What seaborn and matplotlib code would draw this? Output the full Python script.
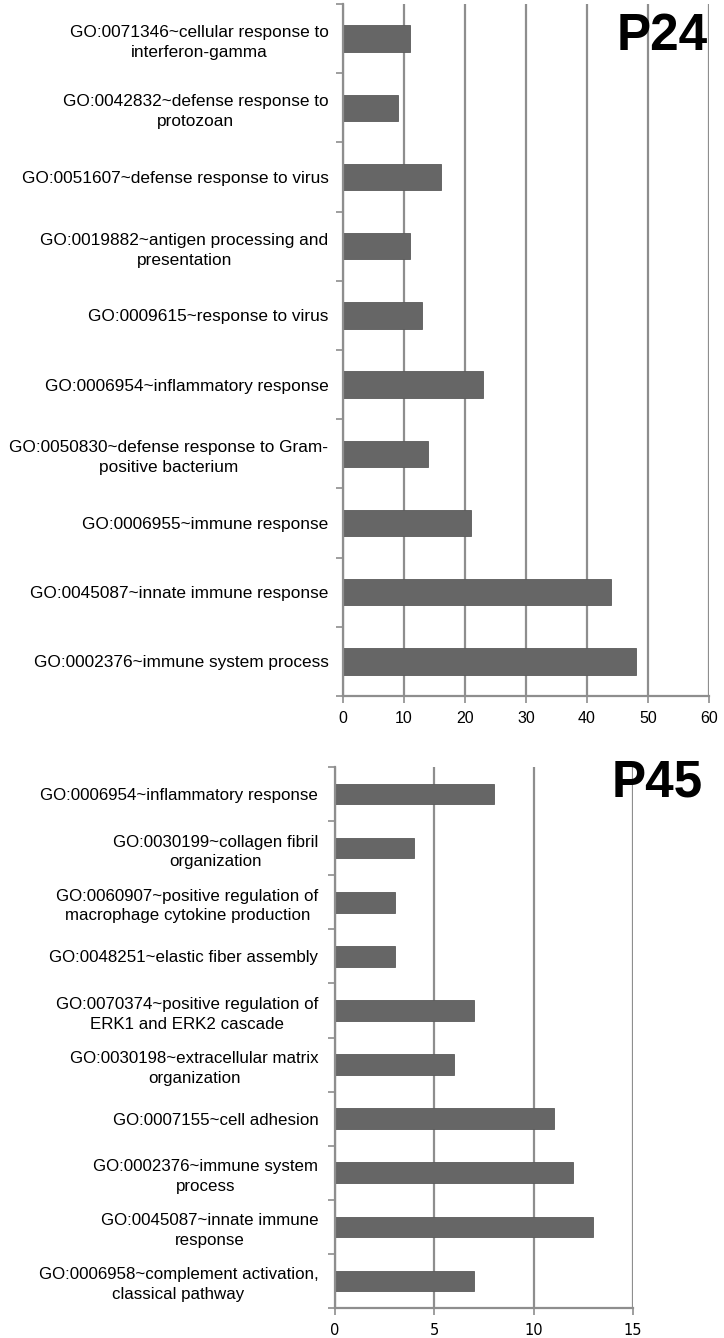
import matplotlib
matplotlib.use("Agg")
import matplotlib.pyplot as plt
import seaborn as sns
import pandas as pd
import numpy as np

# ---- data ----
p24_terms = [
    "GO:0071346~cellular response to\ninterferon-gamma",
    "GO:0042832~defense response to\nprotozoan",
    "GO:0051607~defense response to virus",
    "GO:0019882~antigen processing and\npresentation",
    "GO:0009615~response to virus",
    "GO:0006954~inflammatory response",
    "GO:0050830~defense response to Gram-\npositive bacterium",
    "GO:0006955~immune response",
    "GO:0045087~innate immune response",
    "GO:0002376~immune system process",
]
p24_counts = [11, 9, 16, 11, 13, 23, 14, 21, 44, 48]
p24_ticks = [0, 10, 20, 30, 40, 50, 60]

p45_terms = [
    "GO:0006954~inflammatory response",
    "GO:0030199~collagen fibril\norganization",
    "GO:0060907~positive regulation of\nmacrophage cytokine production",
    "GO:0048251~elastic fiber assembly",
    "GO:0070374~positive regulation of\nERK1 and ERK2 cascade",
    "GO:0030198~extracellular matrix\norganization",
    "GO:0007155~cell adhesion",
    "GO:0002376~immune system\nprocess",
    "GO:0045087~innate immune\nresponse",
    "GO:0006958~complement activation,\nclassical pathway",
]
p45_counts = [8, 4, 3, 3, 7, 6, 11, 12, 13, 7]
p45_ticks = [0, 5, 10, 15]

sns.set_theme(style="white")
plt.rcParams["font.family"] = ["Liberation Sans", "DejaVu Sans"]
plt.rcParams["text.color"] = "black"
plt.rcParams["xtick.color"] = "black"
plt.rcParams["ytick.color"] = "black"

W, H = 724, 1338
fig = plt.figure(figsize=(W / 100, H / 100), dpi=100)

bar_color = "#666666"
grid_color = "#8e8e8e"


def panel(rect, terms, counts, ticks, title, label_size, label_pad, tick_font,
          tick_size, title_xy, linespacing):
    ax = fig.add_axes(rect)
    df = pd.DataFrame({"term": terms, "count": counts})
    sns.barplot(data=df, y="term", x="count", orient="h", color=bar_color,
                saturation=1, width=0.38, edgecolor="#5a5a5a", linewidth=0.6, ax=ax)
    n = len(terms)
    ax.set_xlim(ticks[0], ticks[-1])
    ax.set_ylim(n - 0.5, -0.5)
    ax.set_xticks(ticks)
    ax.set_xticklabels([str(t) for t in ticks], fontsize=tick_size, family=tick_font,
                       color="black")
    ax.set_yticks(np.arange(n))
    ax.set_yticklabels(terms, fontsize=label_size, linespacing=linespacing,
                       multialignment="center", color="black")
    ax.set_yticks(np.arange(n + 1) - 0.5, minor=True)
    ax.tick_params(axis="y", which="major", length=0, pad=label_pad)
    ax.tick_params(axis="y", which="minor", length=5, width=1.2, color=grid_color, left=True)
    ax.tick_params(axis="x", which="major", length=5, width=1.2, color=grid_color,
                   bottom=True, pad=6)
    ax.set_xlabel("")
    ax.set_ylabel("")
    ax.xaxis.grid(True, color=grid_color, linewidth=1.6)
    ax.yaxis.grid(False)
    ax.set_axisbelow(True)
    for s in ["top", "right"]:
        ax.spines[s].set_visible(False)
    for s in ["left", "bottom"]:
        ax.spines[s].set_color(grid_color)
        ax.spines[s].set_linewidth(1.6)
    fig.text(title_xy[0] / W, 1 - title_xy[1] / H, title, fontsize=37,
             fontweight="bold", ha="right", va="top", family="Liberation Sans",
             color="black")
    return ax


panel([343 / W, 1 - 696 / H, (709 - 343) / W, (696 - 4) / H],
      p24_terms, p24_counts, p24_ticks, "P24", 12.4, 10.5, "Liberation Sans", 11.5,
      (708, 12), 1.42)
panel([335 / W, 1 - 1308 / H, (633 - 335) / W, (1308 - 767) / H],
      p45_terms, p45_counts, p45_ticks, "P45", 12.2, 12, "DejaVu Sans", 10.5,
      (703, 758), 1.38)

fig.savefig("out.png", dpi=100)
